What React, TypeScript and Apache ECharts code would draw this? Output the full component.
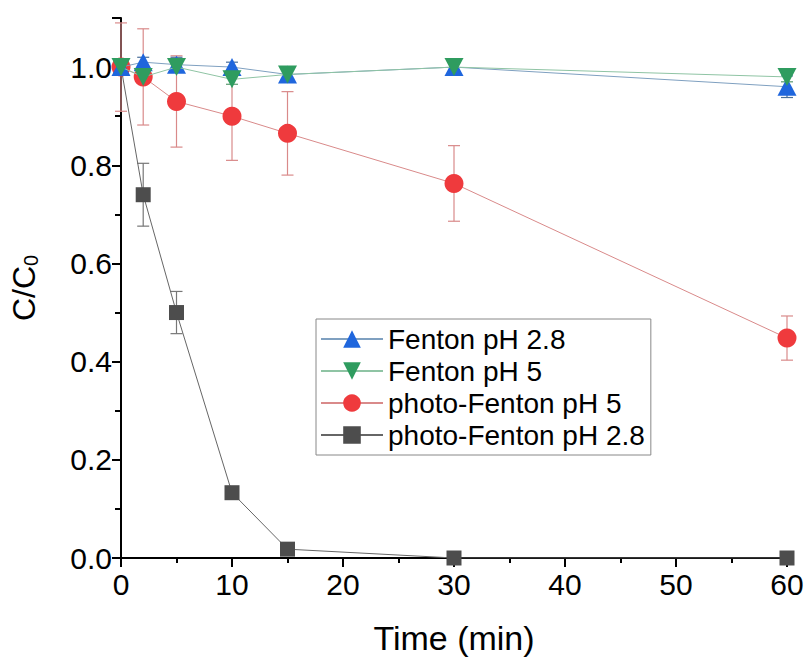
import React, { useEffect, useRef } from "react";
import * as echarts from "echarts";

const times = [0, 2, 5, 10, 15, 30, 60];
const fenton28 = [1.0, 1.01, 1.005, 1.0, 0.985, 1.0, 0.96];
const fenton28Err = [0, 0.01, 0.015, 0.01, 0.01, 0.01, 0.022];
const fenton5 = [1.0, 0.98, 1.0, 0.975, 0.985, 1.0, 0.98];
const fenton5Err = [0, 0.01, 0.01, 0.01, 0.01, 0.01, 0.01];
const photo5 = [1.0, 0.98, 0.93, 0.9, 0.865, 0.763, 0.448];
const photo5Err = [0.09, 0.098, 0.093, 0.09, 0.085, 0.077, 0.045];
const photo28 = [1.0, 0.74, 0.5, 0.133, 0.018, 0.0, 0.0];
const photo28Err = [0, 0.064, 0.043, 0.0, 0.0, 0, 0];
const seriesNames = ["Fenton pH 2.8", "Fenton pH 5", "photo-Fenton pH 5", "photo-Fenton pH 2.8"];
const yTicks = [0, 0.2, 0.4, 0.6, 0.8, 1.0];

const FONT = "'Liberation Sans', Arial, sans-serif";

function pts(vals: number[]) {
  return times.map((t, i) => [t, vals[i]]);
}
function errs(vals: number[], e: number[]) {
  const out: number[][] = [];
  times.forEach((t, i) => {
    if (e[i] > 0) out.push([t, vals[i] - e[i], vals[i] + e[i]]);
  });
  return out;
}

function errSeries(data: number[][], color: string, z: number) {
  return {
    type: "custom",
    name: "err",
    z,
    silent: true,
    data,
    clip: false,
    renderItem: (params: any, api: any) => {
      const x = api.value(0);
      const lo = api.coord([x, api.value(1)]);
      const hi = api.coord([x, api.value(2)]);
      const w = 6;
      const style = { stroke: color, lineWidth: 1.2 };
      return {
        type: "group",
        children: [
          { type: "line", shape: { x1: lo[0], y1: lo[1], x2: hi[0], y2: hi[1] }, style },
          { type: "line", shape: { x1: hi[0] - w, y1: hi[1], x2: hi[0] + w, y2: hi[1] }, style },
          { type: "line", shape: { x1: lo[0] - w, y1: lo[1], x2: lo[0] + w, y2: lo[1] }, style },
        ],
      };
    },
  };
}

export default function App() {
  const ref = useRef<HTMLDivElement>(null);
  useEffect(() => {
    const chart = echarts.init(ref.current!, null, { renderer: "svg" });
    chart.setOption({
      animation: false,
      backgroundColor: "#ffffff",
      textStyle: { fontFamily: FONT },
      grid: { left: 120, right: 20, top: 18, bottom: 103, containLabel: false },
      legend: {
        data: seriesNames,
        orient: "vertical",
        left: 316,
        top: 319,
        padding: [6, 6, 6, 4],
        borderColor: "#888",
        borderWidth: 1,
        itemWidth: 62,
        itemHeight: 22,
        itemGap: 4,
        textStyle: { fontSize: 28, color: "#000", fontFamily: FONT, lineHeight: 28 },
      },
      xAxis: {
        type: "value",
        min: 0,
        max: 60,
        interval: 10,
        name: "Time (min)",
        nameLocation: "middle",
        nameGap: 63,
        nameTextStyle: { fontSize: 34, color: "#000", fontFamily: FONT },
        axisLine: { lineStyle: { color: "#000", width: 2 } },
        axisTick: { show: true, length: 9, lineStyle: { color: "#000", width: 2 } },
        minorTick: { show: true, splitNumber: 2, length: 5, lineStyle: { color: "#000", width: 2 } },
        axisLabel: { fontSize: 30, color: "#000", margin: 11, fontFamily: FONT },
        splitLine: { show: false },
      },
      yAxis: {
        type: "value",
        min: 0,
        max: 1.1,
        interval: 0.2,
        name: "{a|C/C}{b|0}",
        nameLocation: "middle",
        nameGap: 80,
        nameRotate: 90,
        nameTextStyle: {
          color: "#000",
          fontFamily: FONT,
          rich: {
            a: { fontSize: 32, color: "#000", fontFamily: FONT },
            b: { fontSize: 20, color: "#000", fontFamily: FONT, verticalAlign: "bottom", padding: [14, 0, 0, 0] },
          },
        },
        axisLine: { show: true, lineStyle: { color: "#000", width: 2 } },
        axisTick: { show: true, length: 9, lineStyle: { color: "#000", width: 2 } },
        minorTick: { show: true, splitNumber: 2, length: 6, lineStyle: { color: "#000", width: 2 } },
        axisLabel: {
          fontSize: 30,
          color: "#000",
          margin: 9,
          fontFamily: FONT,
          showMaxLabel: false,
          formatter: (v: number) => (yTicks.some((t) => Math.abs(t - v) < 1e-6) ? v.toFixed(1) : ""),
        },
        splitLine: { show: false },
      },
      series: [
        errSeries(errs(photo28, photo28Err), "#777777", 1),
        errSeries(errs(photo5, photo5Err), "#d98a8a", 1),
        errSeries(errs(fenton28, fenton28Err), "#4a6f9a", 1),
        errSeries(errs(fenton5, fenton5Err), "#5a9a70", 1),
        {
          name: seriesNames[3],
          type: "line",
          z: 2,
          data: pts(photo28),
          symbol: "rect",
          symbolSize: 15,
          itemStyle: { color: "#4d4d4d" },
          lineStyle: { color: "#666666", width: 1 },
        },
        {
          name: seriesNames[2],
          type: "line",
          z: 3,
          data: pts(photo5),
          symbol: "circle",
          symbolSize: 19,
          itemStyle: { color: "#ef3a3d" },
          lineStyle: { color: "#d98a8a", width: 1 },
        },
        {
          name: seriesNames[0],
          type: "line",
          z: 4,
          data: pts(fenton28),
          symbol: "triangle",
          symbolSize: [19, 18],
          itemStyle: { color: "#1f66dd" },
          lineStyle: { color: "#7fa0c0", width: 1 },
        },
        {
          name: seriesNames[1],
          type: "line",
          z: 5,
          data: pts(fenton5),
          symbol: "triangle",
          symbolRotate: 180,
          symbolSize: [19, 18],
          itemStyle: { color: "#2f9c5f" },
          lineStyle: { color: "#8fc4a4", width: 1 },
        },
      ],
    });
    return () => chart.dispose();
  }, []);
  return <div ref={ref} style={{ width: 807, height: 661, position: "absolute", left: 0, top: 0 }} />;
}
